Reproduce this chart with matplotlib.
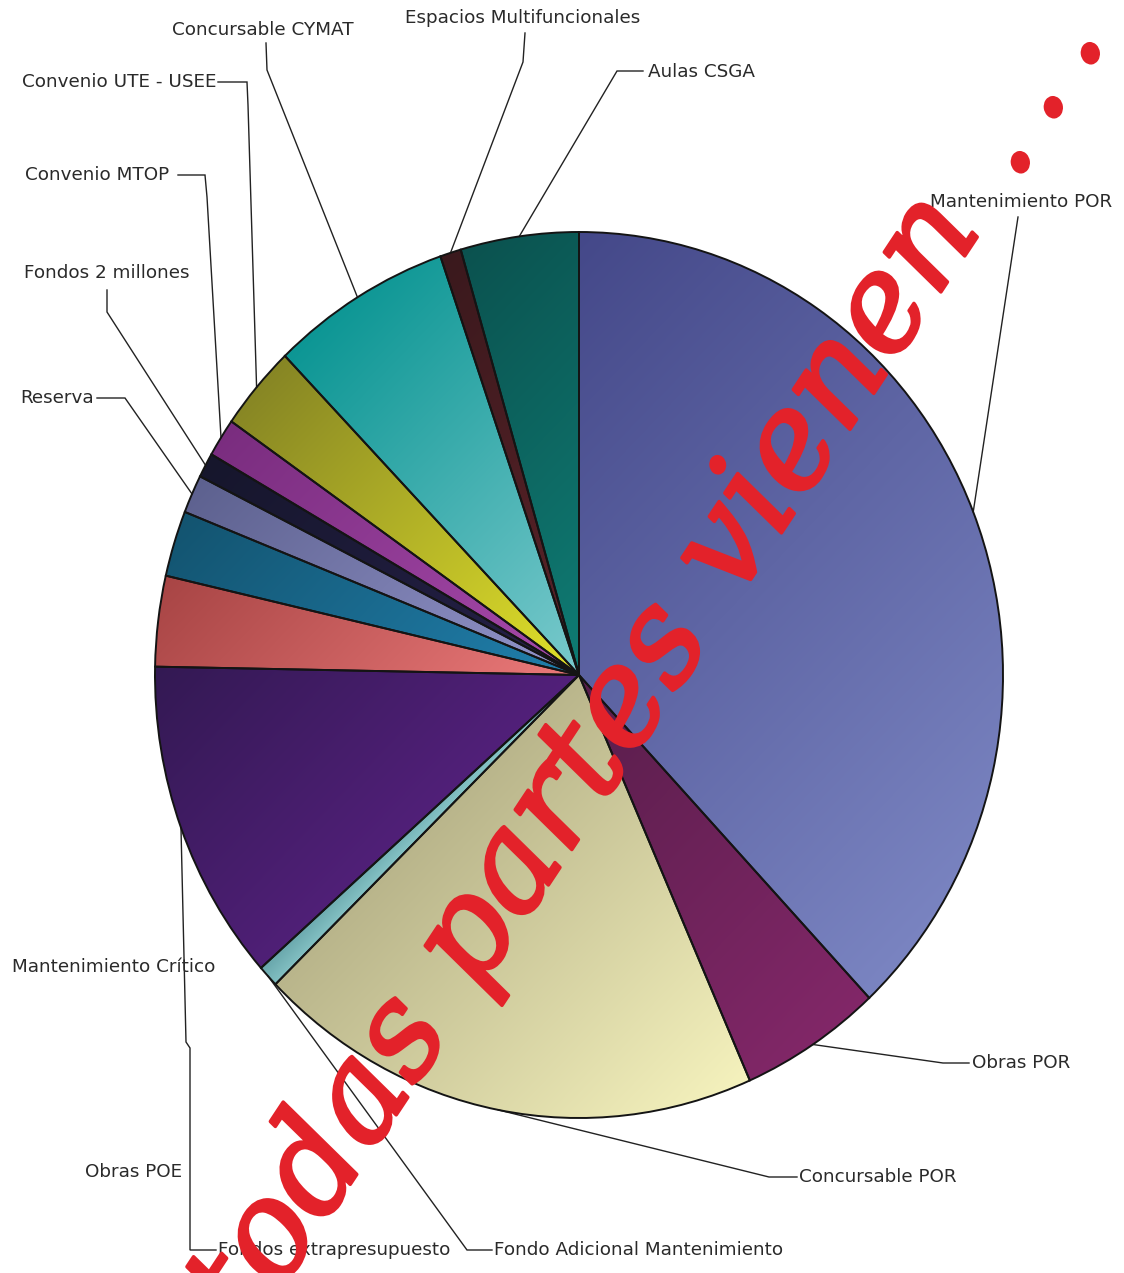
import numpy as np
import matplotlib
matplotlib.use("Agg")
import matplotlib.pyplot as plt
from matplotlib.patches import Wedge
from matplotlib.colors import to_rgb
import matplotlib.patheffects as pe

# ---------------- data (percent of total, clockwise from 12 o'clock) ----------------
categories = ["Mantenimiento POR", "Obras POR", "Concursable POR",
              "Fondo Adicional Mantenimiento", "Fondos extrapresupuesto", "Obras POE",
              "Mantenimiento Crítico", "Reserva", "Fondos 2 millones", "Convenio MTOP",
              "Convenio UTE - USEE", "Concursable CYMAT", "Espacios Multifuncionales",
              "Aulas CSGA"]
values = [38.0, 5.4, 19.3, 0.8, 11.8, 3.3, 2.4, 1.4, 0.9, 1.4, 3.1, 6.9, 0.8, 4.5]

dark_colors = ["#444889", "#581e4b", "#b9b58b", "#68a6ab", "#331953", "#a84545",
               "#135470", "#5d618f", "#16162c", "#7a2d7f", "#878624", "#0c9694",
               "#3a191d", "#0b524f"]
light_colors = ["#7a84c1", "#822768", "#f5f2bd", "#8ac7c9", "#52207a", "#ec7a7a",
                "#2180ad", "#9496cc", "#262149", "#a84aac", "#e2e22a", "#7acacd",
                "#5c2329", "#0f7c74"]

watermark = "todas partes vienen"
watermark_tail = "."

# ---------------- layout (pixel geometry of the reference) ----------------
W, H, DPI = 1124, 1273, 100
CX, CY, RX, RY = 579, 675, 424, 443

def P(px, py):
    return ((px - CX) / RX, (CY - py) / RY)

fig = plt.figure(figsize=(W / DPI, H / DPI), dpi=DPI)
fig.patch.set_facecolor("white")
ax = fig.add_axes([0, 0, 1, 1])

wedges, _ = ax.pie(values, colors=light_colors, startangle=90, counterclock=False,
                   radius=1, center=(0, 0),
                   wedgeprops=dict(edgecolor="none", linewidth=0))

# gradient fill for each wedge
g = np.linspace(-1.02, 1.02, 600)
GX, GY = np.meshgrid(g, g)
proj = (GX - GY) / np.sqrt(2)
for w, dc, lc in zip(wedges, dark_colors, light_colors):
    th = np.radians(np.linspace(w.theta1, w.theta2, 60))
    px = np.concatenate([[0], np.cos(th)])
    py = np.concatenate([[0], np.sin(th)])
    pp = (px - py) / np.sqrt(2)
    t = np.clip((proj - pp.min()) / max(pp.max() - pp.min(), 1e-6), 0, 1)[..., None]
    img = np.array(to_rgb(dc)) * (1 - t) + np.array(to_rgb(lc)) * t
    im = ax.imshow(img, extent=(-1.02, 1.02, -1.02, 1.02), origin="lower",
                   aspect="auto", interpolation="bilinear", zorder=2)
    im.set_clip_path(w)
    ax.add_patch(Wedge(w.center, w.r, w.theta1, w.theta2, fill=False,
                       edgecolor="#141414", linewidth=1.4, zorder=4))

# ---------------- labels and leader lines ----------------
label_cfg = {
    "Mantenimiento POR": dict(xy=(930, 202), ha="left", path=[(1018, 217)]),
    "Obras POR": dict(xy=(972, 1063), ha="left", path=[(943, 1063), (969, 1063)]),
    "Concursable POR": dict(xy=(799, 1177), ha="left", path=[(769, 1177), (797, 1177)]),
    "Fondo Adicional Mantenimiento": dict(xy=(494, 1250), ha="left",
                                          path=[(467, 1250), (492, 1250)]),
    "Fondos extrapresupuesto": dict(xy=(218, 1250), ha="left",
                                    path=[(186, 1042), (190, 1048), (190, 1250), (216, 1250)]),
    "Obras POE": dict(xy=(85, 1172), ha="left", path=None),
    "Mantenimiento Crítico": dict(xy=(12, 967), ha="left", path=None),
    "Reserva": dict(xy=(20, 398), ha="left", path=[(125, 398), (97, 398)]),
    "Fondos 2 millones": dict(xy=(24, 273), ha="left", path=[(107, 312), (107, 290)]),
    "Convenio MTOP": dict(xy=(25, 175), ha="left", path=[(207, 197), (205, 175), (178, 175)]),
    "Convenio UTE - USEE": dict(xy=(22, 82), ha="left",
                                path=[(248, 105), (247, 82), (218, 82)]),
    "Concursable CYMAT": dict(xy=(263, 30), ha="center", path=[(267, 70), (266, 43)]),
    "Espacios Multifuncionales": dict(xy=(523, 18), ha="center", path=[(523, 62), (525, 33)]),
    "Aulas CSGA": dict(xy=(648, 72), ha="left", path=[(617, 71), (643, 71)]),
}

for w, name in zip(wedges, categories):
    cfg = label_cfg[name]
    mid = np.radians((w.theta1 + w.theta2) / 2)
    if cfg["path"] is not None:
        pts = [(np.cos(mid), np.sin(mid))] + [P(*q) for q in cfg["path"]]
        xs, ys = zip(*pts)
        ax.plot(xs, ys, color="#222222", lw=1.0, zorder=3, solid_joinstyle="miter")
    tx, ty = P(*cfg["xy"])
    ax.text(tx, ty, name, ha=cfg["ha"], va="center", fontsize=13.2,
            family="DejaVu Sans", color="#2a2a2a", zorder=5)

ax.set_aspect("auto")
ax.set_xlim(-CX / RX, (W - CX) / RX)
ax.set_ylim(-(H - CY) / RY, CY / RY)
ax.axis("off")

# ---------------- watermark ----------------
ANG = 56.5
RED = "#e3222a"
wm_style = dict(rotation=ANG, rotation_mode="anchor", fontsize=96,
                family="DejaVu Serif", style="italic", color=RED, zorder=10,
                path_effects=[pe.withStroke(linewidth=2.5, foreground=RED,
                                            joinstyle="round")])
fig.text(586 / W, 1 - 762 / H, watermark, ha="center", va="center", **wm_style)
# trailing dots (widely spaced in the reference)
for dxp, dyp in [(1026, 166), (1059, 111), (1096, 57)]:
    fig.text(dxp / W, 1 - dyp / H, watermark_tail, ha="center", va="baseline", **wm_style)

fig.savefig("out.png", dpi=DPI, facecolor="white")
